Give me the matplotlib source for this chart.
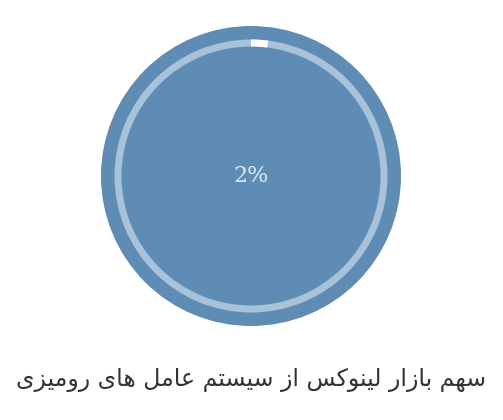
import matplotlib.pyplot as plt
from matplotlib.patches import Circle, Wedge

# data
title = 'سهم بازار لینوکس از سیستم عامل های رومیزی'
share = 2  # percent
label = '2%'

# arabic presentation forms: isolated, final, initial, medial
FORMS = {
    'س': ('\uFEB1', '\uFEB2', '\uFEB3', '\uFEB4'),
    'ه': ('\uFEE9', '\uFEEA', '\uFEEB', '\uFEEC'),
    'م': ('\uFEE1', '\uFEE2', '\uFEE3', '\uFEE4'),
    'ب': ('\uFE8F', '\uFE90', '\uFE91', '\uFE92'),
    'ل': ('\uFEDD', '\uFEDE', '\uFEDF', '\uFEE0'),
    'ی': ('\uFBFC', '\uFBFD', '\uFBFE', '\uFBFF'),
    'ن': ('\uFEE5', '\uFEE6', '\uFEE7', '\uFEE8'),
    'ک': ('\uFB8E', '\uFB8F', '\uFB90', '\uFB91'),
    'ت': ('\uFE95', '\uFE96', '\uFE97', '\uFE98'),
    'ع': ('\uFEC9', '\uFECA', '\uFECB', '\uFECC'),
    'ا': ('\uFE8D', '\uFE8E', '\uFE8D', '\uFE8E'),
    'ز': ('\uFEAF', '\uFEB0', '\uFEAF', '\uFEB0'),
    'ر': ('\uFEAD', '\uFEAE', '\uFEAD', '\uFEAE'),
    'و': ('\uFEED', '\uFEEE', '\uFEED', '\uFEEE'),
}
RIGHT_ONLY = set('ازرو')


def shape(text):
    # poor man's reshaping + RTL, matplotlib does not do it
    out = []
    for i, ch in enumerate(text):
        if ch not in FORMS:
            out.append(ch)
            continue
        prev = text[i - 1] if i > 0 else ' '
        nxt = text[i + 1] if i + 1 < len(text) else ' '
        jp = prev in FORMS and prev not in RIGHT_ONLY
        jn = nxt in FORMS and ch not in RIGHT_ONLY
        iso, fin, ini, med = FORMS[ch]
        if jp and jn:
            out.append(med)
        elif jp:
            out.append(fin)
        elif jn:
            out.append(ini)
        else:
            out.append(iso)
    return ''.join(reversed(out))


fig = plt.figure(figsize=(5.03, 4.20), dpi=100)
ax = fig.add_axes([0, 0, 1, 1])
ax.set_xlim(0, 503)
ax.set_ylim(0, 420)
ax.set_aspect('equal')
ax.axis('off')

cx, cy = 251, 244
ax.add_patch(Circle((cx, cy), 150, color='#5e8cb4', lw=0))
ax.add_patch(Wedge((cx, cy), 136.5, 0, 360, width=7, color='#a8c2da', lw=0))
ax.add_patch(Wedge((cx, cy), 136.5, 90 - 360 * share / 100, 90, width=7,
                   color='white', lw=0))

ax.text(cx, cy, label, ha='center', va='center', fontsize=16,
        family='DejaVu Serif', color='#dde7f1')

ax.text(251, 40, shape(title), ha='center', va='center', fontsize=17,
        family='DejaVu Sans', color='#333333')

fig.savefig('out.png', dpi=100)
